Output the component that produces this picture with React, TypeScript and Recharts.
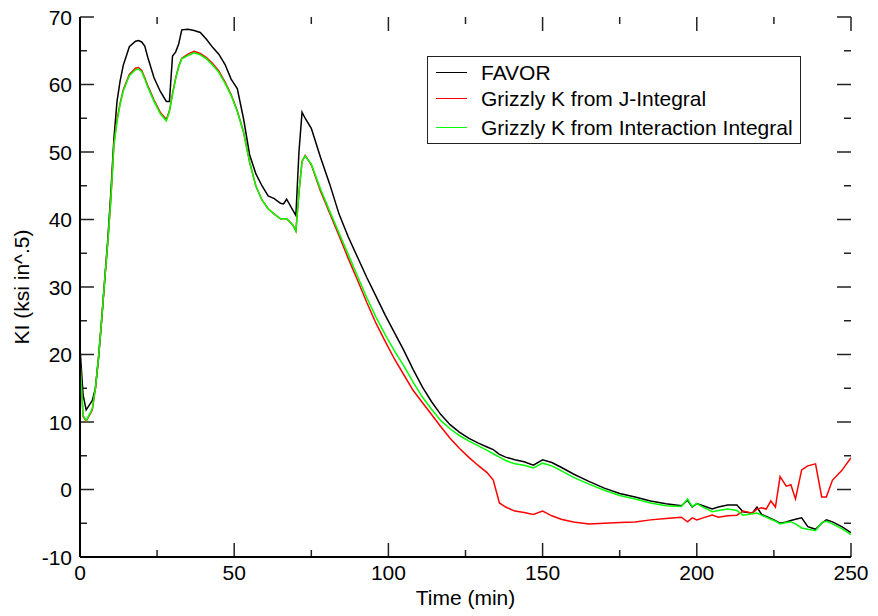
import React from 'react';
import { LineChart, Line, XAxis, YAxis, ReferenceLine } from 'recharts';

// Time (min)
const time = [
  0, 1, 2, 4, 5, 6, 7, 8, 9, 10, 11, 12, 13, 14, 16, 18, 19, 20, 21, 22, 24, 26, 28, 29, 30, 31, 32, 33, 35, 37, 39, 41,
  43, 45, 47, 49, 51, 53, 55, 57, 59, 61, 63, 65, 66, 67, 69, 70, 71, 72, 73, 75, 78, 81, 84, 87, 90, 93, 96, 99, 102,
  105, 108, 111, 114, 117, 120, 123, 126, 129, 132, 134, 136, 138, 141, 144, 147, 150, 153, 156, 160, 165, 170, 175,
  180, 185, 190, 195, 197, 198.5, 200, 202, 205, 207, 210, 213, 215, 218, 219.5, 221, 222.5, 224, 225.5, 227, 229,
  230.5, 232, 234, 236, 238.5, 240.5, 242, 244, 247, 250,
];

// KI (ksi in^.5)
const favor = [
  21, 14, 11.8, 13.2, 15, 19.5, 25, 31, 37, 44, 52, 57.5, 60.5, 62.8, 65.6, 66.4, 66.5, 66.3, 65.7, 64, 61, 59, 57.5,
  57.5, 64.2, 64.8, 66, 68.1, 68.2, 68, 67.7, 66.7, 65.5, 64.5, 63, 60.8, 59.4, 55, 49.6, 46.8, 45, 43.5, 43.1, 42.4,
  42.3, 43, 41.4, 40.6, 50, 55.9, 55, 53.5, 49.2, 45.2, 40.8, 37.4, 34.4, 31.4, 28.6, 25.8, 23.2, 20.6, 17.8, 15.2, 13,
  11.1, 9.6, 8.5, 7.6, 6.9, 6.3, 5.9, 5.2, 4.8, 4.4, 4.1, 3.6, 4.4, 4, 3.3, 2.3, 1.2, 0.2, -0.6, -1.1, -1.7, -2.1, -2.4,
  -1.6, -2.6, -2.1, -2.4, -2.9, -2.6, -2.3, -2.3, -3.3, -3.5, -2.6, -3.7, -4, -4.3, -4.6, -5, -4.8, -4.6, -4.4, -4.2,
  -5.5, -5.9, -5, -4.5, -4.8, -5.5, -6.4,
];

const jIntegral = [
  19, 10.8, 10.1, 11.8, 15, 19.5, 25, 31, 36.5, 43, 51.2, 54.8, 57.2, 59.2, 61.5, 62.4, 62.5, 62.1, 61, 59.8, 57.7, 55.9,
  54.8, 56.1, 58.6, 60.9, 62.7, 63.9, 64.5, 64.9, 64.6, 64, 63.1, 62, 60.4, 58.5, 56.1, 53, 48.5, 45, 42.9, 41.6, 40.8,
  40.1, 40.1, 40.1, 39.2, 38.3, 44, 48.6, 49.5, 48.1, 44.2, 40.9, 37.6, 34.2, 31, 27.7, 24.6, 21.9, 19.3, 17, 14.7, 12.9,
  11.1, 9.3, 7.6, 6.1, 4.8, 3.6, 2.5, 1.4, -2, -2.6, -3.2, -3.4, -3.7, -3.2, -3.9, -4.4, -4.8, -5.1, -5, -4.9, -4.8, -4.5,
  -4.3, -4.1, -4.8, -4.2, -4.5, -4.2, -3.8, -4.1, -3.9, -3.8, -3.2, -3.5, -2.9, -2.7, -2.9, -1.7, -2.6, 1.9, 0.5, 0.7,
  -1.4, 2.9, 3.5, 3.8, -1.1, -1.1, 1.4, 2.8, 4.7,
];

const interaction = [
  19, 11, 10.2, 12, 15, 19.5, 25, 31, 36.5, 43, 51, 54.5, 57, 59, 61.3, 62.2, 62.3, 61.9, 60.8, 59.6, 57.5, 55.7, 54.6,
  56, 58.5, 60.8, 62.6, 63.8, 64.3, 64.7, 64.4, 63.8, 62.9, 61.8, 60.2, 58.4, 56, 53, 48.5, 45, 42.9, 41.6, 40.8, 40.1,
  40.1, 40.1, 39.2, 38.3, 44, 48.6, 49.4, 48.2, 44.5, 41.2, 38, 34.8, 31.6, 28.4, 25.5, 22.9, 20.5, 18.3, 15.9, 13.7,
  11.9, 10.2, 9, 8, 7.2, 6.5, 5.8, 5.3, 4.8, 4.3, 3.8, 3.6, 3.2, 3.9, 3.5, 2.8, 1.8, 0.8, -0.1, -0.9, -1.4, -2, -2.4,
  -2.5, -1.4, -2.5, -2.1, -2.6, -3.3, -3.1, -2.9, -3.1, -3.8, -3.6, -3.5, -3.8, -4.1, -4.4, -4.7, -5.1, -4.9, -4.8, -5.1,
  -5.7, -5.9, -6.1, -4.9, -4.7, -5.1, -5.8, -6.7,
];

const xMajor = [0, 50, 100, 150, 200, 250];
const xMinor = [25, 75, 125, 175, 225];
const yMajor = [-10, 0, 10, 20, 30, 40, 50, 60, 70];
const yMinor = [-5, 5, 15, 25, 35, 45, 55, 65];

const X_DOMAIN = [0, 250];
const Y_DOMAIN = [-10, 70];

const series = [
  { key: 'favor', name: 'FAVOR', color: '#000000' },
  { key: 'jIntegral', name: 'Grizzly K from J-Integral', color: '#ff0000' },
  { key: 'interaction', name: 'Grizzly K from Interaction Integral', color: '#00ff00' },
];

const data = time.map((t, i) => ({
  t,
  favor: favor[i],
  jIntegral: jIntegral[i],
  interaction: interaction[i],
}));

const FONT = '"Liberation Sans", Arial, Helvetica, sans-serif';
const TICK_COLOR = '#222';

// chart geometry
const W = 862;
const H = 616;
const MARGIN = { top: 17, right: 19, left: 0, bottom: 0 };
const Y_AXIS_W = 72;
const X_AXIS_H = 59;
const PLOT_W = W - Y_AXIS_W - MARGIN.right;
const PLOT_H = H - MARGIN.top - X_AXIS_H;

// inward tick lengths (px) turned into data units
const MAJOR_PX = 14;
const MINOR_PX = 7;
const xPerPx = (X_DOMAIN[1] - X_DOMAIN[0]) / PLOT_W;
const yPerPx = (Y_DOMAIN[1] - Y_DOMAIN[0]) / PLOT_H;

const BottomLabel = (props: any) => {
  const x = Number(props.x);
  const y = Number(props.y);
  return (
    <text x={x} y={y + 23} textAnchor="middle" fontSize={21} fill="#000" fontFamily={FONT}>
      {props.payload.value}
    </text>
  );
};

const LeftLabel = (props: any) => {
  const x = Number(props.x);
  const y = Number(props.y);
  return (
    <text x={x - 8} y={y + 7.5} textAnchor="end" fontSize={21} fill="#000" fontFamily={FONT}>
      {props.payload.value}
    </text>
  );
};

const tickLine = (key: string, segment: Array<{ x: number; y: number }>) => (
  <ReferenceLine
    key={key}
    segment={segment}
    stroke={TICK_COLOR}
    strokeWidth={1.5}
    ifOverflow="visible"
  />
);

const xTickMarks = [...xMajor, ...xMinor].flatMap((v) => {
  const len = (xMajor.includes(v) ? MAJOR_PX : MINOR_PX) * yPerPx;
  return [
    tickLine(`xb${v}`, [{ x: v, y: Y_DOMAIN[0] }, { x: v, y: Y_DOMAIN[0] + len }]),
    tickLine(`xt${v}`, [{ x: v, y: Y_DOMAIN[1] }, { x: v, y: Y_DOMAIN[1] - len }]),
  ];
});

const yTickMarks = [...yMajor, ...yMinor].flatMap((v) => {
  const len = (yMajor.includes(v) ? MAJOR_PX : MINOR_PX) * xPerPx;
  return [
    tickLine(`yl${v}`, [{ x: X_DOMAIN[0], y: v }, { x: X_DOMAIN[0] + len, y: v }]),
    tickLine(`yr${v}`, [{ x: X_DOMAIN[1], y: v }, { x: X_DOMAIN[1] - len, y: v }]),
  ];
});

// legend box, drawn over the plot like in the original
const rowCenters = [16, 42, 71];
const LegendBox = () => (
  <div
    style={{
      position: 'absolute',
      left: 419,
      top: 56,
      width: 374,
      height: 88,
      boxSizing: 'border-box',
      border: '1.5px solid #222',
      background: '#fff',
      fontFamily: FONT,
      fontSize: 21,
      color: '#000',
    }}
  >
    {series.map((s, i) => (
      <div key={s.key}>
        <div
          style={{
            position: 'absolute',
            left: 8,
            top: rowCenters[i] - 1,
            width: 31,
            height: 0,
            borderTop: `1.5px solid ${s.color}`,
          }}
        />
        <div
          style={{
            position: 'absolute',
            left: 53,
            top: rowCenters[i] - 13,
            lineHeight: '26px',
            whiteSpace: 'nowrap',
          }}
        >
          {s.name}
        </div>
      </div>
    ))}
  </div>
);

const App = () => {
  return (
    <div style={{ position: 'relative', width: W, height: H, marginTop: -8, fontFamily: FONT }}>
      <LineChart width={W} height={H} data={data} margin={MARGIN}>
        <XAxis
          dataKey="t"
          type="number"
          domain={X_DOMAIN}
          ticks={xMajor}
          interval={0}
          height={X_AXIS_H}
          tickSize={0}
          tickMargin={0}
          tickLine={false}
          axisLine={{ stroke: '#000', strokeWidth: 2 }}
          tick={(p: any) => <BottomLabel {...p} />}
          allowDataOverflow
          label={{ value: 'Time (min)', position: 'insideBottom', offset: 11, fontSize: 21, fill: '#000', fontFamily: FONT }}
        />
        <XAxis
          xAxisId="top"
          orientation="top"
          dataKey="t"
          type="number"
          domain={X_DOMAIN}
          height={0}
          tick={false}
          tickLine={false}
          axisLine={{ stroke: '#000', strokeWidth: 2 }}
          allowDataOverflow
        />
        <YAxis
          type="number"
          domain={Y_DOMAIN}
          ticks={yMajor}
          interval={0}
          width={Y_AXIS_W}
          tickSize={0}
          tickMargin={0}
          tickLine={false}
          axisLine={{ stroke: '#000', strokeWidth: 2 }}
          tick={(p: any) => <LeftLabel {...p} />}
          allowDataOverflow
          label={{
            value: 'KI (ksi in^.5)',
            angle: -90,
            position: 'insideLeft',
            offset: 14,
            fontSize: 21,
            fill: '#000',
            fontFamily: FONT,
            style: { textAnchor: 'middle' },
          }}
        />
        <YAxis
          yAxisId="right"
          orientation="right"
          type="number"
          domain={Y_DOMAIN}
          width={0}
          tick={false}
          tickLine={false}
          axisLine={{ stroke: '#000', strokeWidth: 2 }}
          allowDataOverflow
        />
        {xTickMarks}
        {yTickMarks}
        {series.map((s) => (
          <Line
            key={s.key}
            type="linear"
            dataKey={s.key}
            name={s.name}
            stroke={s.color}
            strokeWidth={1.5}
            dot={false}
            activeDot={false}
            isAnimationActive={false}
          />
        ))}
      </LineChart>
      <LegendBox />
    </div>
  );
};

export default App;
